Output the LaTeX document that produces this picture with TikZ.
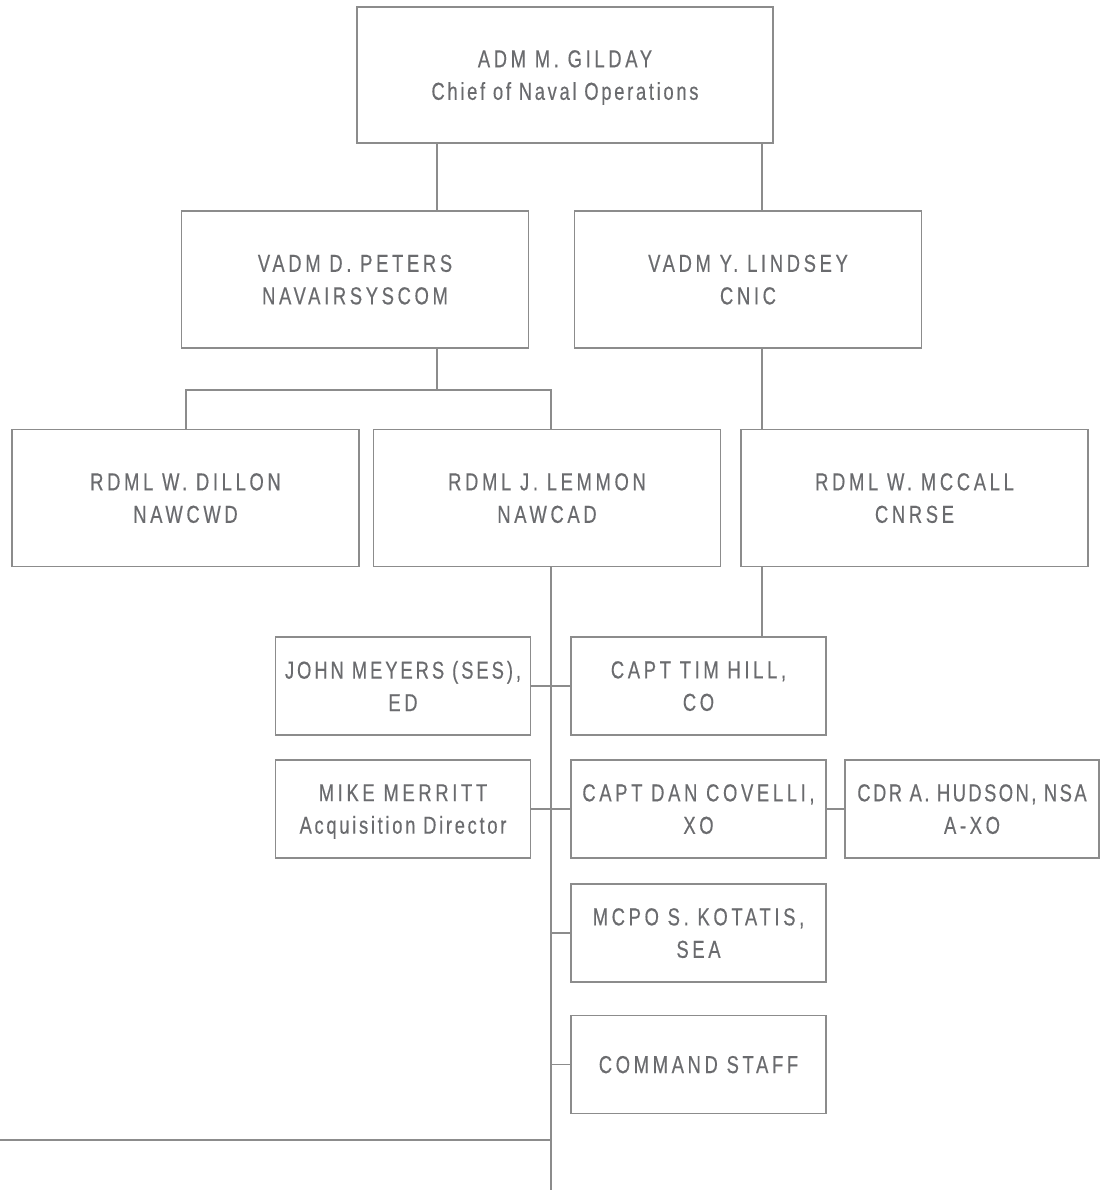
\documentclass[tikz,border=0pt]{standalone}
\usepackage{fontspec}
\setmainfont{Liberation Sans}
\newfontfamily\capf[FakeStretch=0.75,LetterSpace=15,FakeBold=0.4]{Liberation Sans}
\newfontfamily\capm[FakeStretch=0.75,LetterSpace=12,FakeBold=0.4]{Liberation Sans}
\newfontfamily\capn[FakeStretch=0.75,LetterSpace=10,FakeBold=0.4]{Liberation Sans}
\newfontfamily\lowf[FakeStretch=0.75,LetterSpace=11,FakeBold=0.4]{Liberation Sans}
\definecolor{linegray}{HTML}{8C8C8C}
\definecolor{textgray}{HTML}{6A6B6E}
\begin{document}
\begin{tikzpicture}[x=1pt,y=-1pt,
  box/.style={draw=linegray,line width=1.4pt,inner sep=0pt,align=center,
    text=textgray,font=\fontsize{24.5}{32.5}\selectfont\capf,anchor=center,
    text depth=0pt},
  big/.style={box,minimum width=347pt,minimum height=137pt},
  small/.style={box,minimum width=255pt,minimum height=98pt},
  conn/.style={draw=linegray,line width=1.4pt}]
\useasboundingbox (0,0) rectangle (1102,1190);
\node[box,minimum width=416pt,minimum height=136pt] (cno) at (565,75) {ADM M. GILDAY\\{\lowf Chief of Naval Operations}};
\node[big] (peters) at (355,279.5) {VADM D. PETERS\\NAVAIRSYSCOM};
\node[big] (lindsey) at (748,279.5) {VADM Y. LINDSEY\\CNIC};
\node[big] (dillon) at (185.5,498) {RDML W. DILLON\\NAWCWD};
\node[big] (lemmon) at (547,498) {RDML J. LEMMON\\NAWCAD};
\node[big] (mccall) at (914.5,498) {RDML W. MCCALL\\CNRSE};
\node[small] (meyers) at (403,686) {{\capm JOHN MEYERS (SES),}\\ED};
\node[small] (hill) at (698.5,686) {CAPT TIM HILL,\\CO};
\node[small] (merritt) at (403,809) {MIKE MERRITT\\{\lowf Acquisition Director}};
\node[small] (covelli) at (698.5,809) {CAPT DAN COVELLI,\\XO};
\node[small,minimum width=254pt] (hudson) at (972,809) {{\capn CDR A. HUDSON, NSA}\\A-XO};
\node[small] (kotatis) at (698.5,933) {MCPO S. KOTATIS,\\SEA};
\node[small] (staff) at (698.5,1064.5) {COMMAND STAFF};
\coordinate (xa) at (437,0);
\coordinate (xb) at (762,0);
\coordinate (xl) at (186,0);
\coordinate (xs) at (551,0);
\coordinate (bar) at (0,390);
\coordinate (spineend) at (551,1190);
\coordinate (leftend) at (0,1140);
\draw[conn] (cno.south -| xa) -- (peters.north -| xa);
\draw[conn] (cno.south -| xb) -- (lindsey.north -| xb);
\draw[conn] (peters.south -| xa) -- (bar -| xa);
\draw[conn] (dillon.north -| xl) -- (bar -| xl) -- (bar -| xs) -- (lemmon.north -| xs);
\draw[conn] (lindsey.south -| xb) -- (mccall.north -| xb);
\draw[conn] (lemmon.south -| xs) -- (spineend);
\draw[conn] (mccall.south -| xb) -- (hill.north -| xb);
\draw[conn] (meyers.east) -- (hill.west);
\draw[conn] (merritt.east) -- (covelli.west);
\draw[conn] (covelli.east) -- (hudson.west);
\draw[conn] (kotatis.west -| xs) -- (kotatis.west);
\draw[conn] (staff.west -| xs) -- (staff.west);
\draw[conn] (leftend) -- (leftend -| xs);
\end{tikzpicture}
\end{document}
